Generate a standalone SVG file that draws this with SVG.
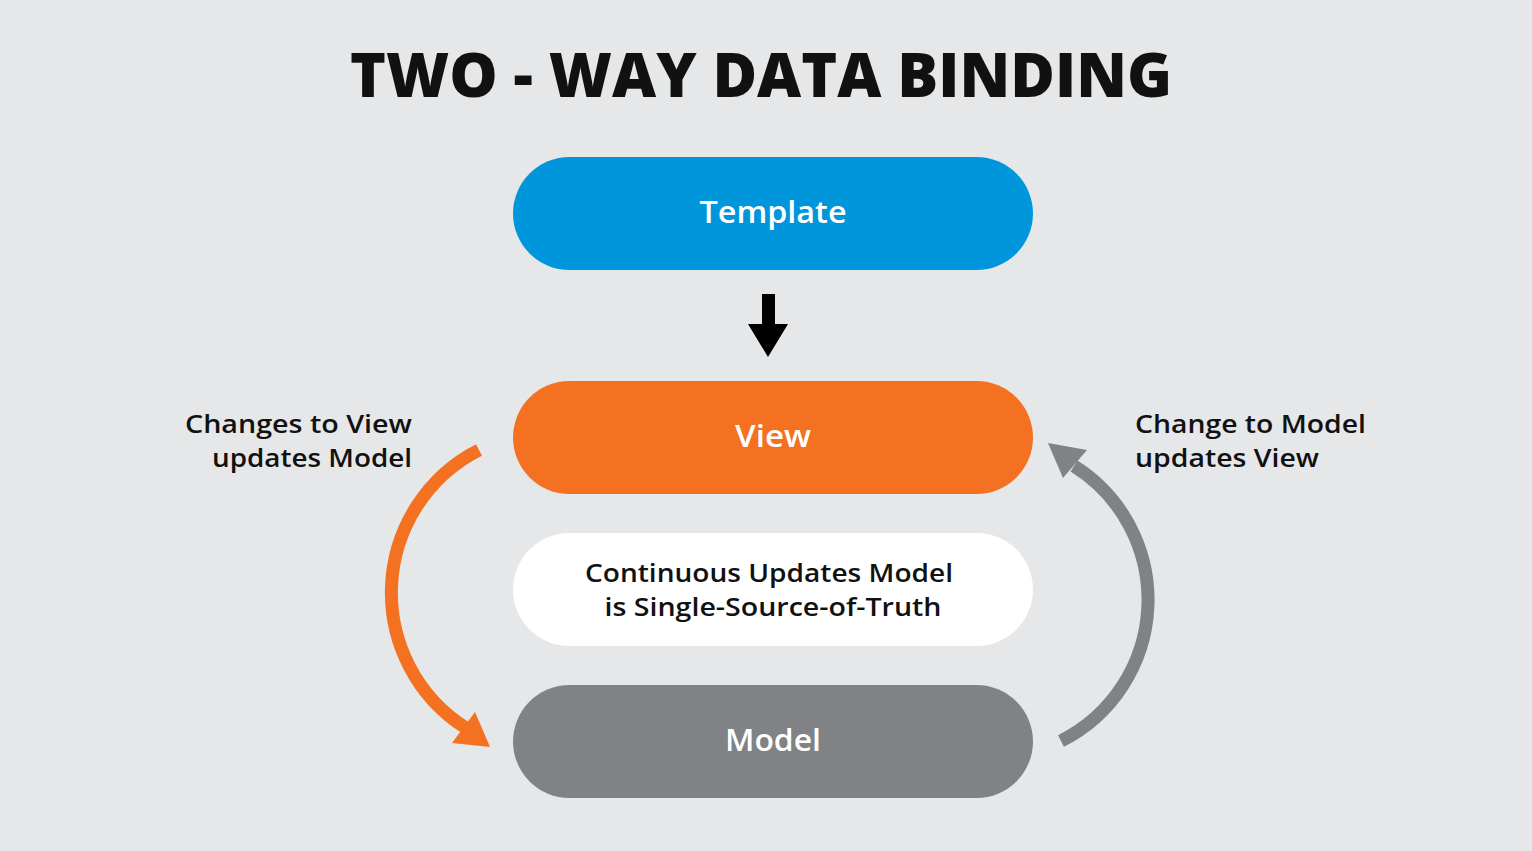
<svg xmlns="http://www.w3.org/2000/svg" width="1532" height="851" viewBox="0 0 1532 851">
<style>
.pill-text{font-family:"Open Sans","Liberation Sans",sans-serif;font-weight:600;font-size:31px;fill:#ffffff;text-anchor:middle}
.lbl{font-family:"Open Sans","Liberation Sans",sans-serif;font-weight:600;font-size:26px;fill:#111111}
.title{font-family:"Open Sans","Liberation Sans",sans-serif;font-weight:800;font-size:62px;fill:#111111}
</style>
<rect width="1532" height="851" fill="#E6E7E8"/>
<text class="title" x="350" y="97" textLength="822" lengthAdjust="spacingAndGlyphs">TWO - WAY DATA BINDING</text>
<g id="template">
<rect x="513" y="157" width="520" height="113" rx="56.5" fill="#0096DB"/>
<text class="pill-text" x="773" y="223" textLength="147" lengthAdjust="spacingAndGlyphs">Template</text>
</g>
<g id="view">
<rect x="513" y="381" width="520" height="113" rx="56.5" fill="#F37121"/>
<text class="pill-text" x="773" y="447" textLength="76" lengthAdjust="spacingAndGlyphs">View</text>
</g>
<g id="truth">
<rect x="513" y="533" width="520" height="113" rx="56.5" fill="#FFFFFF"/>
<text class="lbl" x="769" y="582" text-anchor="middle" textLength="368" lengthAdjust="spacingAndGlyphs">Continuous Updates Model</text>
<text class="lbl" x="773" y="616" text-anchor="middle" textLength="337" lengthAdjust="spacingAndGlyphs">is Single-Source-of-Truth</text>
</g>
<g id="model">
<rect x="513" y="685" width="520" height="113" rx="56.5" fill="#808285"/>
<text class="pill-text" x="773" y="751" textLength="96" lengthAdjust="spacingAndGlyphs">Model</text>
</g>
<g id="labels">
<text class="lbl" x="412" y="433" text-anchor="end" textLength="227" lengthAdjust="spacingAndGlyphs">Changes to View</text>
<text class="lbl" x="412" y="467" text-anchor="end" textLength="200" lengthAdjust="spacingAndGlyphs">updates Model</text>
<text class="lbl" x="1135" y="433" textLength="231" lengthAdjust="spacingAndGlyphs">Change to Model</text>
<text class="lbl" x="1135" y="467" textLength="184" lengthAdjust="spacingAndGlyphs">updates View</text>
</g>
<g id="connectors">
<rect x="762" y="294" width="13" height="32" fill="#000000"/>
<polygon points="748,324 788,324 768,357" fill="#000000"/>
<path d="M 479 450 A 160 160 0 0 0 466 728" fill="none" stroke="#F37121" stroke-width="13"/>
<polygon points="490,747 452,743 475,712" fill="#F37121"/>
<path d="M 1061 741 A 158 158 0 0 0 1074 466" fill="none" stroke="#808285" stroke-width="13"/>
<polygon points="1048,443 1063,478 1087,450" fill="#808285"/>
</g>
</svg>
